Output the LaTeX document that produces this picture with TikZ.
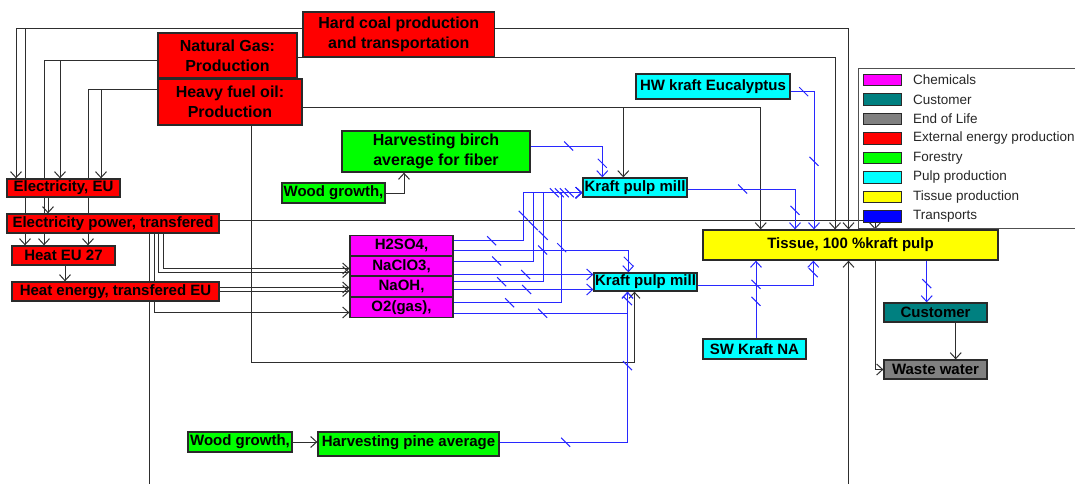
\documentclass[tikz,border=0pt]{standalone}
\usepackage{fontspec}
\setmainfont{Liberation Sans}
\usetikzlibrary{arrows.meta,decorations.markings}
\pgfdeclarelayer{bg}
\pgfsetlayers{bg,main}
\definecolor{lnc}{HTML}{2E2E2E}
\definecolor{tbc}{RGB}{40,40,255}
\definecolor{bdc}{HTML}{2A2A2A}
\definecolor{cred}{HTML}{FF0000}
\definecolor{cgreen}{HTML}{00FF00}
\definecolor{ccyan}{HTML}{00FFFF}
\definecolor{cmag}{HTML}{FF00FF}
\definecolor{cyel}{HTML}{FFFF00}
\definecolor{cteal}{HTML}{008080}
\definecolor{cgray}{HTML}{808080}
\definecolor{cblue}{HTML}{0000FF}
\definecolor{legc}{HTML}{505050}
\tikzset{
  box/.style={draw=bdc, line width=1.3pt, inner sep=0pt, align=center,
    font=\fontsize{15}{17}\selectfont\bfseries},
  big/.style={font=\fontsize{16}{20}\selectfont\bfseries},
  ext/.style={box, fill=cred},
  forest/.style={box, fill=cgreen},
  pulp/.style={box, fill=ccyan},
  chem/.style={box, fill=cmag},
  tiss/.style={box, fill=cyel},
  custs/.style={box, fill=cteal},
  eol/.style={box, fill=cgray},
  ln/.style={draw=lnc, line width=1pt, -{Straight Barb[length=6pt,width=11pt]}},
  tp/.style={draw=tbc, line width=1pt, -{Straight Barb[length=6pt,width=11pt]}},
  tk/.style={postaction={decorate,decoration={markings,
     mark=at position #1 with {\pgftransformresetnontranslations
       \draw[tbc,line width=1pt,-,solid](-4.5pt,4.5pt)--(4.5pt,-4.5pt);}}}},
  swatch/.style={draw=bdc, line width=1pt, minimum width=38.5pt, minimum height=11.5pt, inner sep=0pt},
  legtxt/.style={font=\fontsize{13.5}{15}\selectfont, text=black!85, inner sep=0pt, anchor=west},
}
\begin{document}
\begin{tikzpicture}[x=1pt,y=-1pt]
\useasboundingbox (0,0) rectangle (1075,484);
% nodes
\node[ext,big,minimum width=191.6pt,minimum height=45pt] (hc) at (398.8,34.5) {Hard coal production\\and transportation};
\node[ext,big,minimum width=139pt,minimum height=45pt] (ng) at (227.5,55.5) {Natural Gas:\\Production};
\node[ext,big,minimum width=144pt,minimum height=46pt] (hfo) at (230,102) {Heavy fuel oil:\\Production};
\node[ext,minimum width=113pt,minimum height=18pt] (eeu) at (63.5,188) {Electricity, EU};
\node[ext,minimum width=212pt,minimum height=19pt] (ep) at (113,223.5) {Electricity power, transfered};
\node[ext,minimum width=103pt,minimum height=19pt] (heat) at (63.5,255.5) {Heat EU 27};
\node[ext,minimum width=207pt,minimum height=19pt] (he) at (115.5,291.5) {Heat energy, transfered EU};
\node[forest,big,minimum width=188pt,minimum height=41pt] (birch) at (436,151.5) {Harvesting birch\\average for fiber};
\node[forest,minimum width=103pt,minimum height=20pt] (wg1) at (333.5,193) {Wood growth,};
\node[pulp,minimum width=104pt,minimum height=19pt] (kpm1) at (635,187.5) {Kraft pulp mill};
\node[pulp,minimum width=154pt,minimum height=25pt] (hw) at (713,86.5) {HW kraft Eucalyptus};
\node[tiss,minimum width=295pt,minimum height=30pt] (tissue) at (850.5,245) {Tissue, 100 \%kraft pulp};
\node[chem,minimum width=103pt,minimum height=20pt] (h2so4) at (401.5,245.3) {H2SO4,};
\node[chem,minimum width=103pt,minimum height=20pt] (nacl) at (401.5,266) {NaClO3,};
\node[chem,minimum width=103pt,minimum height=20pt] (naoh) at (401.5,286.7) {NaOH,};
\node[chem,minimum width=103pt,minimum height=20pt] (o2) at (401.5,307.3) {O2(gas),};
\node[pulp,minimum width=103pt,minimum height=18pt] (kpm2) at (645.5,282) {Kraft pulp mill};
\node[pulp,minimum width=103pt,minimum height=20pt] (swk) at (754.5,349) {SW Kraft NA};
\node[custs,minimum width=103pt,minimum height=19pt] (cust) at (935.5,312.5) {Customer};
\node[eol,minimum width=103pt,minimum height=19pt] (ww) at (935.5,369.5) {Waste water};
\node[forest,minimum width=104pt,minimum height=20pt] (wg2) at (240,442) {Wood growth,};
\node[forest,minimum width=181pt,minimum height=24pt,text depth=6pt] (pine) at (408.5,444) {Harvesting pine average};
% legend
\draw[legc,line width=1pt] (858,69) rectangle (1090,228);
\foreach \c/\t [count=\i from 0] in {cmag/Chemicals, cteal/Customer, cgray/End of Life, cred/External energy production, cgreen/Forestry, ccyan/Pulp production, cyel/Tissue production, cblue/Transports} {
  \node[swatch, fill=\c] (sq\i) at (882.5, 80+19.5*\i) {};
  \node[legtxt] (lt\i) at (913, 80+19.5*\i) {\t};
}
\begin{pgfonlayer}{bg}
% fuels to electricity / heat
\draw[ln] (hc.west |- 0,28.3) -| (eeu.north -| 16,0);
\draw[ln] (hc.west |- 0,28.3) -| (heat.north -| 25,0);
\draw[ln] (ng.west |- 0,60.7) -| (eeu.north -| 60,0);
\draw[ln] (ng.west |- 0,60.7) -| (heat.north -| 44,0);
\draw[ln] (hfo.west |- 0,89.3) -| (eeu.north -| 101,0);
\draw[ln] (hfo.west |- 0,89.3) -| (heat.north -| 88,0);
\draw[ln] (eeu.south -| 48,0) -- (ep.north -| 48,0);
\draw[ln] (heat.south -| 65,0) -- (he.north -| 65,0);
% fuels to tissue and mills
\draw[ln] (hc.east |- 0,28.3) -| (tissue.north -| 848.5,0);
\draw[ln] (ng.east |- 0,57.7) -| (tissue.north -| 835,0);
\draw[ln] (hfo.east |- 0,107.3) -| (tissue.north -| 760.7,0);
\draw[ln] (hfo.east |- 0,107.3) -| (kpm1.north -| 623.3,0);
\draw[ln] (hfo.south -| 251.5,0) -- (251.5,362.5) -| (kpm2.south -| 634.5,0);
% electricity power and heat energy
\draw[ln] (ep.east |- 0,220) -| (tissue.north -| 875,0);
\draw[ln] (ep.south -| 149.5,0) -- (149.5,500) -| (tissue.south -| 848.5,0);
\draw[ln] (ep.south -| 163.5,0) |- (nacl.west |- 0,268.5);
\draw[ln] (ep.south -| 158.5,0) |- (nacl.west |- 0,272);
\draw[ln] (ep.south -| 154,0) |- (o2.west |- 0,312.5);
\draw[ln] (he.east |- 0,287.5) -- (naoh.west |- 0,287.5);
\draw[ln] (he.east |- 0,291) -- (naoh.west |- 0,291);
% forestry
\draw[ln] (wg1.east) -| (birch.south -| 404,0);
\draw[ln] (wg2.east) -- (wg2.east -| pine.west);
% end of life
\draw[ln] (cust.south -| 955.7,0) -- (ww.north -| 955.7,0);
\draw[ln] (tissue.south -| 875,0) |- (ww.west);
% transports
\draw[tp,tk=38pt,tk=-14pt] (birch.east |- 0,146) -| (kpm1.north -| 602.3,0);
\draw[tp,tk=13pt,tk=-68pt] (hw.east |- 0,91.7) -| (tissue.north -| 814,0);
\draw[tp,tk=55pt,tk=-19pt] (kpm1.east |- 0,189) -| (tissue.north -| 795,0);
\draw[tp,tk=-12pt] (kpm2.east |- 0,285) -| (tissue.south -| 813.3,0);
\draw[tp,tk=37pt,tk=54pt] (swk.north -| 756,0) -- (tissue.south -| 756,0);
\draw[tp,tk=23pt] (tissue.south -| 926.7,0) -- (cust.north -| 926.7,0);
\draw[tp,tk=38pt,tk=95pt,tk=-28pt] (h2so4.east |- 0,240.7) -| (523.3,192.7) -- (kpm1.west |- 0,192.7);
\draw[tp,tk=89pt,tk=-11pt] (h2so4.east |- 0,250) -| (kpm2.north -| 628.3,0);
\draw[tp,tk=43pt,tk=115pt,tk=-23pt] (nacl.east |- 0,261) -| (533.3,192.7) -- (kpm1.west |- 0,192.7);
\draw[tp,tk=72pt] (nacl.east |- 0,274.5) -- (kpm2.west |- 0,274.5);
\draw[tp,tk=48pt,tk=136pt,tk=-18pt] (naoh.east |- 0,281.7) -| (543.3,192.7) -- (kpm1.west |- 0,192.7);
\draw[tp,tk=73pt] (naoh.east |- 0,289.5) -- (kpm2.west |- 0,289.5);
\draw[tp,tk=56pt,tk=163pt,tk=-13pt] (o2.east |- 0,302.7) -| (561.7,192.7) -- (kpm1.west |- 0,192.7);
\draw[tp,tk=89pt,tk=-9pt] (o2.east |- 0,313.3) -| (kpm2.south -| 627.5,0);
\draw[tp,tk=66pt,tk=-74pt] (pine.east |- 0,442.3) -| (kpm2.south -| 627.5,0);
\end{pgfonlayer}
\end{tikzpicture}
\end{document}
